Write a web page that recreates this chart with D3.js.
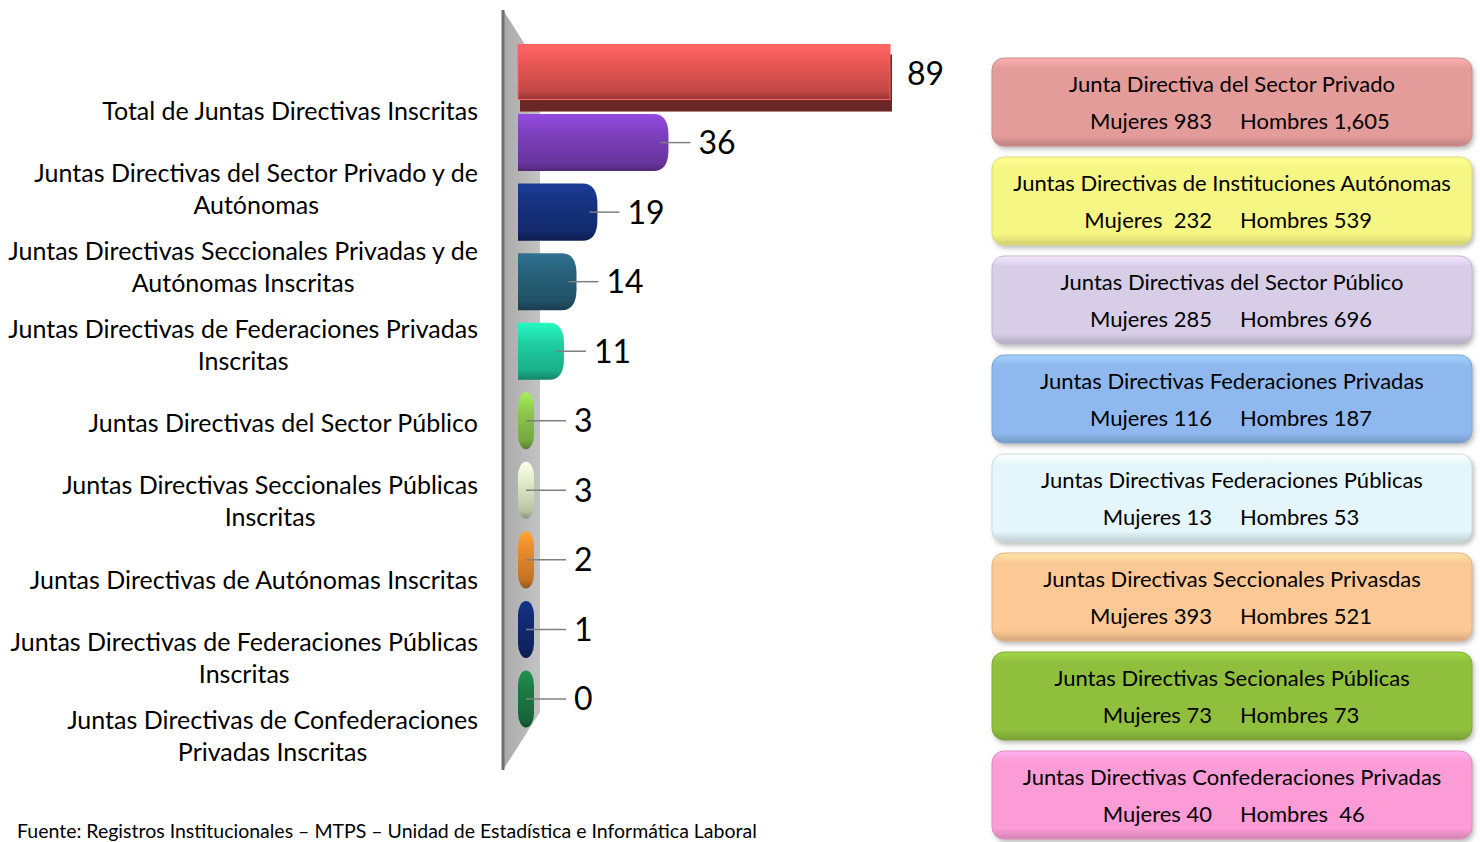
<!DOCTYPE html>
<html>
<head>
<meta charset="utf-8">
<script src="https://cdn.jsdelivr.net/npm/d3@7"></script>
<style>
  body { margin: 0; background: #ffffff; }
  svg { display: block; font-family: Lato, "Open Sans", sans-serif; }
</style>
</head>
<body>
<svg id="chart" width="1480" height="842"></svg>
<script>
// bar values, top to bottom
const values = [89, 36, 19, 14, 11, 3, 3, 2, 1, 0];
const barColors = ["#e85654", "#7d3fbd", "#16327f", "#28607a", "#1fd0a2",
                   "#8cc84c", "#dfecc6", "#e8892c", "#112a72", "#1b7a42"];

// category labels as shown on the left axis
const categoryLabels = [
  ["Total de Juntas Directivas Inscritas"],
  ["Juntas Directivas del Sector Privado y de", "Autónomas"],
  ["Juntas Directivas Seccionales Privadas y de", "Autónomas Inscritas"],
  ["Juntas Directivas de Federaciones Privadas", "Inscritas"],
  ["Juntas Directivas del Sector Público"],
  ["Juntas Directivas Seccionales Públicas", "Inscritas"],
  ["Juntas Directivas de Autónomas Inscritas"],
  ["Juntas Directivas de Federaciones Públicas", "Inscritas"],
  ["Juntas Directivas de Confederaciones", "Privadas Inscritas"]
];

// side boxes
const boxTitles = [
  "Junta Directiva del Sector Privado",
  "Juntas Directivas de Instituciones Autónomas",
  "Juntas Directivas del Sector Público",
  "Juntas Directivas Federaciones Privadas",
  "Juntas Directivas Federaciones Públicas",
  "Juntas Directivas Seccionales Privasdas",
  "Juntas Directivas Secionales Públicas",
  "Juntas Directivas Confederaciones Privadas"
];
const mujeres = ["983", " 232", "285", "116", "13", "393", "73", "40"];
const hombres = ["1,605", "539", "696", "187", "53", "521", "73", " 46"];
const boxColors = ["#e49c9b", "#f6f684", "#d7cde7", "#8fb9ee", "#e4f6fb",
                   "#fcc895", "#90bf3e", "#fc9cd6"];

const source = "Fuente: Registros Institucionales – MTPS – Unidad de Estadística e Informática Laboral";

const svg = d3.select("#chart");
const defs = svg.append("defs");

// scales
const xScale = d3.scaleLinear().domain([0, d3.max(values)]).range([518, 890]);
const yScale = d3.scaleBand().domain(d3.range(values.length)).range([32, 740]).padding(0.18);
const labelY = d3.scalePoint().domain(d3.range(categoryLabels.length)).range([111, 736]);

// gradients for bars
values.forEach((v, i) => {
  const c = d3.color(barColors[i]);
  const g = defs.append("linearGradient").attr("id", "bar" + i)
    .attr("x1", 0).attr("y1", 0).attr("x2", 0).attr("y2", 1);
  g.append("stop").attr("offset", "0%").attr("stop-color", c.brighter(0.5));
  g.append("stop").attr("offset", "35%").attr("stop-color", c);
  g.append("stop").attr("offset", "85%").attr("stop-color", c.darker(0.5));
  g.append("stop").attr("offset", "100%").attr("stop-color", c.darker(1.3));
});

// the 3D wall behind the bars
const wallX0 = xScale(0) - 15;
const wallX1 = xScale(0) + 22;
const wallTop = 10;
const wallBot = 770;
const wallGrad = defs.append("linearGradient").attr("id", "wall")
  .attr("x1", 0).attr("y1", 0).attr("x2", 1).attr("y2", 0);
wallGrad.append("stop").attr("offset", "0%").attr("stop-color", "#a9a9a9");
wallGrad.append("stop").attr("offset", "100%").attr("stop-color", "#c4c4c4");
svg.append("polygon")
  .attr("points", [[wallX0, wallTop], [wallX1, wallTop + 58], [wallX1, wallBot - 58], [wallX0, wallBot]].join(" "))
  .attr("fill", "url(#wall)");
svg.append("line")
  .attr("x1", wallX0).attr("x2", wallX0).attr("y1", wallTop).attr("y2", wallBot)
  .attr("stroke", "#6e6e6e").attr("stroke-width", 3);

// bars
const bw = yScale.bandwidth();
const maxV = d3.max(values);
const minW = 16;
const bars = svg.append("g");
values.forEach((v, i) => {
  const x0 = xScale(0);
  const w = Math.max(xScale(v) - x0, minW);
  const y = yScale(i);
  if (v === maxV) {
    // box-shaped bar with a dark lower face
    bars.append("rect").attr("x", x0 + 2).attr("y", y + 10).attr("width", w)
      .attr("height", bw).attr("fill", d3.color(barColors[i]).darker(2.2));
    bars.append("rect").attr("x", x0).attr("y", y).attr("width", w)
      .attr("height", bw - 2).attr("fill", "url(#bar" + i + ")")
      .attr("stroke", d3.color(barColors[i]).brighter(0.4)).attr("stroke-width", 1);
  } else if (w <= 20) {
    // small values look like capsules
    bars.append("rect").attr("x", x0).attr("y", y).attr("width", w)
      .attr("height", bw).attr("rx", w / 2).attr("ry", w * 0.9)
      .attr("fill", "url(#bar" + i + ")");
  } else {
    const r = Math.min(w / 2, 15);
    bars.append("path")
      .attr("d", `M${x0},${y} H${x0 + w - r} Q${x0 + w},${y} ${x0 + w},${y + r + 6}
                  V${y + bw - r - 6} Q${x0 + w},${y + bw} ${x0 + w - r},${y + bw} H${x0} Z`)
      .attr("fill", "url(#bar" + i + ")");
  }
});

// value labels with leader lines
values.forEach((v, i) => {
  const end = Math.max(xScale(v), xScale(0) + minW);
  const cy = yScale(i) + bw / 2;
  const lx = v === maxV ? end + 17 : Math.max(end + 30, 574);
  if (v !== maxV) {
    svg.append("line")
      .attr("x1", end - 8).attr("x2", lx - 8)
      .attr("y1", cy).attr("y2", cy)
      .attr("stroke", "#7f7f7f").attr("stroke-width", 1.5);
  }
  svg.append("text")
    .attr("x", lx).attr("y", cy)
    .attr("dy", "0.36em")
    .attr("font-size", 32)
    .attr("fill", "#000")
    .text(v);
});

// category labels: block right-aligned, lines centred within the block
const lab = svg.append("g").attr("text-anchor", "middle").attr("font-size", 25).attr("fill", "#000");
categoryLabels.forEach((lines, i) => {
  const cy = labelY(i);
  const lh = 32;
  const texts = lines.map((t, j) => lab.append("text")
    .attr("y", cy + (j - (lines.length - 1) / 2) * lh)
    .attr("dy", "0.35em")
    .text(t));
  const maxW = d3.max(texts, (s) => s.node().getComputedTextLength());
  texts.forEach((s) => s.attr("x", 478 - maxW / 2));
});

// side boxes
const boxX = 992, boxW = 480;
const boxY = d3.scaleBand().domain(d3.range(boxTitles.length)).range([58, 839]).paddingInner(0.111).paddingOuter(0);
const shadow = defs.append("filter").attr("id", "shadow").attr("x", "-5%").attr("y", "-10%")
  .attr("width", "110%").attr("height", "130%");
shadow.append("feGaussianBlur").attr("stdDeviation", 2.5);

boxTitles.forEach((t, i) => {
  const c = d3.color(boxColors[i]);
  const g = defs.append("linearGradient").attr("id", "box" + i)
    .attr("x1", 0).attr("y1", 0).attr("x2", 0).attr("y2", 1);
  g.append("stop").attr("offset", "0%").attr("stop-color", c.brighter(0.35));
  g.append("stop").attr("offset", "12%").attr("stop-color", c);
  g.append("stop").attr("offset", "88%").attr("stop-color", c);
  g.append("stop").attr("offset", "100%").attr("stop-color", c.darker(0.5));

  const y = boxY(i);
  const bh = boxY.bandwidth();
  svg.append("rect").attr("x", boxX + 2).attr("y", y + 3).attr("width", boxW).attr("height", bh)
    .attr("rx", 12).attr("fill", "#8a8a8a").attr("opacity", 0.6).attr("filter", "url(#shadow)");
  svg.append("rect").attr("x", boxX).attr("y", y).attr("width", boxW).attr("height", bh)
    .attr("rx", 12).attr("fill", "url(#box" + i + ")")
    .attr("stroke", c.darker(0.3)).attr("stroke-width", 1);

  const tg = svg.append("g").attr("font-size", 22).attr("fill", "#000");
  tg.append("text").attr("x", boxX + boxW / 2).attr("y", y + 26).attr("dy", "0.35em")
    .attr("text-anchor", "middle").text(t);
  tg.append("text").attr("x", 1212).attr("y", y + 63).attr("dy", "0.35em")
    .attr("text-anchor", "end").style("white-space", "pre").text("Mujeres " + mujeres[i]);
  tg.append("text").attr("x", 1240).attr("y", y + 63).attr("dy", "0.35em")
    .attr("text-anchor", "start").style("white-space", "pre").text("Hombres " + hombres[i]);
});

// source note
svg.append("text")
  .attr("x", 17).attr("y", 838)
  .attr("font-size", 19.5)
  .attr("fill", "#000")
  .text(source);
</script>
</body>
</html>
